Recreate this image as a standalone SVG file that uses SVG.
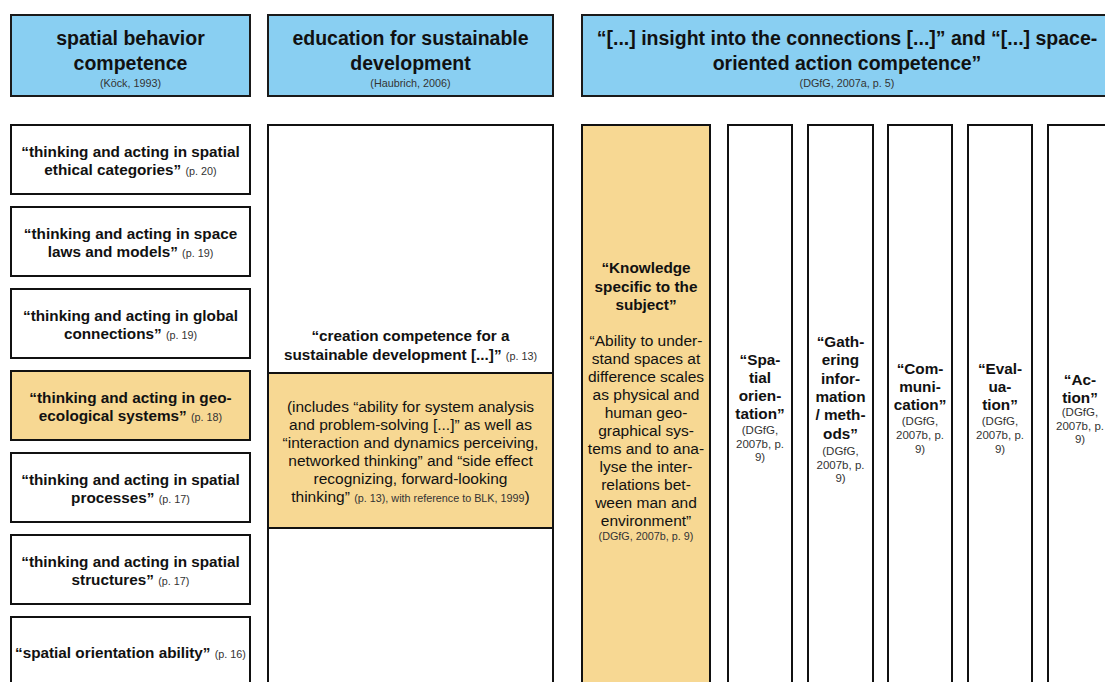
<svg xmlns="http://www.w3.org/2000/svg" width="1105" height="682" viewBox="0 0 1105 682">
<style>
.hdr{fill:#89cff2;stroke:#1a1a1a;stroke-width:2}
.box{fill:#ffffff;stroke:#111;stroke-width:2}
.yel{fill:#f7d893;stroke:#111;stroke-width:2}
text{font-family:"Liberation Sans",Arial,Helvetica,sans-serif;text-anchor:middle;fill:#111}
.t{font-size:19.5px;font-weight:bold}
.b{font-size:15.3px;font-weight:bold}
.r{font-size:15.5px;font-weight:normal}
.s{font-size:10.8px;font-weight:normal;fill:#333}
.n{font-size:11.5px;font-weight:normal;fill:#333}
</style>
<rect width="1105" height="682" fill="#ffffff"/>
<g id="connectors"/>

<g id="header-spatial-behavior">
<rect class="hdr" x="11" y="15" width="239" height="81"/>
<text class="t" x="130.5" y="45">spatial behavior</text>
<text class="t" x="130.5" y="70">competence</text>
<text class="s" x="130.5" y="87">(Köck, 1993)</text>
</g>
<g id="header-esd">
<rect class="hdr" x="268" y="15" width="285" height="81"/>
<text class="t" x="410.5" y="45">education for sustainable</text>
<text class="t" x="410.5" y="70">development</text>
<text class="s" x="410.5" y="87">(Haubrich, 2006)</text>
</g>
<g id="header-dgfg">
<rect class="hdr" x="582" y="15" width="540" height="81"/>
<text class="t" x="847" y="45">“[...] insight into the connections [...]” and “[...] space-</text>
<text class="t" x="847" y="70">oriented action competence”</text>
<text class="s" x="847" y="87">(DGfG, 2007a, p. 5)</text>
</g>

<g id="node-ethical">
<rect class="box" x="11" y="125" width="239" height="69"/>
<text class="b" x="130.5" y="157">“thinking and acting in spatial</text>
<text class="b" x="130.5" y="175">ethical categories” <tspan class="s">(p. 20)</tspan></text>
</g>
<g id="node-laws">
<rect class="box" x="11" y="207" width="239" height="69"/>
<text class="b" x="130.5" y="239">“thinking and acting in space</text>
<text class="b" x="130.5" y="257">laws and models” <tspan class="s">(p. 19)</tspan></text>
</g>
<g id="node-global">
<rect class="box" x="11" y="289" width="239" height="69"/>
<text class="b" x="130.5" y="321">“thinking and acting in global</text>
<text class="b" x="130.5" y="339">connections” <tspan class="s">(p. 19)</tspan></text>
</g>
<g id="node-geoeco">
<rect class="yel" x="11" y="371" width="239" height="69"/>
<text class="b" x="130.5" y="403">“thinking and acting in geo-</text>
<text class="b" x="130.5" y="421">ecological systems” <tspan class="s">(p. 18)</tspan></text>
</g>
<g id="node-processes">
<rect class="box" x="11" y="453" width="239" height="69"/>
<text class="b" x="130.5" y="485">“thinking and acting in spatial</text>
<text class="b" x="130.5" y="503">processes” <tspan class="s">(p. 17)</tspan></text>
</g>
<g id="node-structures">
<rect class="box" x="11" y="535" width="239" height="69"/>
<text class="b" x="130.5" y="567">“thinking and acting in spatial</text>
<text class="b" x="130.5" y="585">structures” <tspan class="s">(p. 17)</tspan></text>
</g>
<g id="node-orientation-ability">
<rect class="box" x="11" y="617" width="239" height="100"/>
<text class="b" x="130.5" y="658">“spatial orientation ability” <tspan class="s">(p. 16)</tspan></text>
</g>

<g id="node-creation-competence">
<rect class="box" x="268" y="125" width="285" height="600"/>
<text class="b" x="410.5" y="341">“creation competence for a</text>
<text class="b" x="410.5" y="360">sustainable development [...]” <tspan class="s">(p. 13)</tspan></text>
<rect class="yel" x="268" y="373" width="285" height="155"/>
<text class="r" x="410.5" y="412">(includes “ability for system analysis</text>
<text class="r" x="410.5" y="430">and problem-solving [...]” as well as</text>
<text class="r" x="410.5" y="448">“interaction and dynamics perceiving,</text>
<text class="r" x="410.5" y="466">networked thinking” and “side effect</text>
<text class="r" x="410.5" y="484">recognizing, forward-looking</text>
<text class="r" x="410.5" y="502">thinking” <tspan class="s">(p. 13), with reference to BLK, 1999</tspan>)</text>
</g>

<g id="node-knowledge">
<rect class="yel" x="582" y="125" width="128" height="600"/>
<text class="b" x="646" y="273">“Knowledge</text>
<text class="b" x="646" y="291.5">specific to the</text>
<text class="b" x="646" y="310">subject”</text>
<text class="r" x="646" y="346">“Ability to under-</text>
<text class="r" x="646" y="364">stand spaces at</text>
<text class="r" x="646" y="382">difference scales</text>
<text class="r" x="646" y="400">as physical and</text>
<text class="r" x="646" y="418">human geo-</text>
<text class="r" x="646" y="436">graphical sys-</text>
<text class="r" x="646" y="454">tems and to ana-</text>
<text class="r" x="646" y="472">lyse the inter-</text>
<text class="r" x="646" y="490">relations bet-</text>
<text class="r" x="646" y="508">ween man and</text>
<text class="r" x="646" y="526">environment”</text>
<text class="s" x="646" y="540">(DGfG, 2007b, p. 9)</text>
</g>

<g id="node-spatial-orientation">
<rect class="box" x="728" y="125" width="64" height="600"/>
<text class="b" x="760" y="364.5">“Spa-</text>
<text class="b" x="760" y="382.5">tial</text>
<text class="b" x="760" y="401">orien-</text>
<text class="b" x="760" y="419">tation”</text>
<text class="n" x="760" y="434">(DGfG,</text>
<text class="n" x="760" y="448">2007b, p.</text>
<text class="n" x="760" y="461">9)</text>
</g>
<g id="node-gathering">
<rect class="box" x="808" y="125" width="65" height="600"/>
<text class="b" x="840.5" y="347">“Gath-</text>
<text class="b" x="840.5" y="365">ering</text>
<text class="b" x="840.5" y="383.5">infor-</text>
<text class="b" x="840.5" y="402">mation</text>
<text class="b" x="840.5" y="420">/ meth-</text>
<text class="b" x="840.5" y="439">ods”</text>
<text class="n" x="840.5" y="455">(DGfG,</text>
<text class="n" x="840.5" y="468.5">2007b, p.</text>
<text class="n" x="840.5" y="482">9)</text>
</g>
<g id="node-communication">
<rect class="box" x="888" y="125" width="64" height="600"/>
<text class="b" x="920" y="374">“Com-</text>
<text class="b" x="920" y="392">muni-</text>
<text class="b" x="920" y="410">cation”</text>
<text class="n" x="920" y="425">(DGfG,</text>
<text class="n" x="920" y="439">2007b, p.</text>
<text class="n" x="920" y="453">9)</text>
</g>
<g id="node-evaluation">
<rect class="box" x="968" y="125" width="64" height="600"/>
<text class="b" x="1000" y="374">“Eval-</text>
<text class="b" x="1000" y="392">ua-</text>
<text class="b" x="1000" y="410">tion”</text>
<text class="n" x="1000" y="425">(DGfG,</text>
<text class="n" x="1000" y="439">2007b, p.</text>
<text class="n" x="1000" y="453">9)</text>
</g>
<g id="node-action">
<rect class="box" x="1048" y="125" width="64" height="600"/>
<text class="b" x="1080" y="385">“Ac-</text>
<text class="b" x="1080" y="402.5">tion”</text>
<text class="n" x="1080" y="416">(DGfG,</text>
<text class="n" x="1080" y="429.5">2007b, p.</text>
<text class="n" x="1080" y="443">9)</text>
</g>
</svg>
